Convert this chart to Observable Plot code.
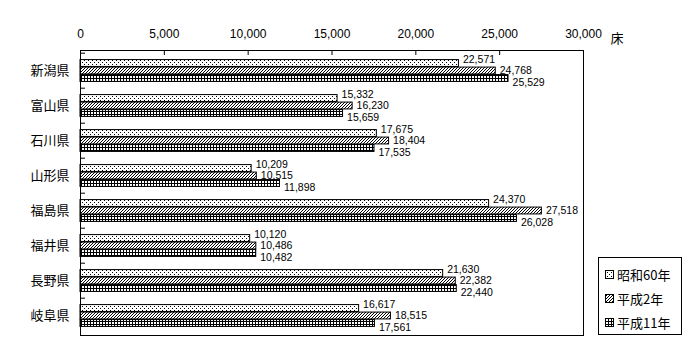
<!DOCTYPE html>
<html>
<head>
<meta charset="utf-8">
<script src="https://cdn.jsdelivr.net/npm/d3@7"></script>
<script src="https://cdn.jsdelivr.net/npm/@observablehq/plot@0.6"></script>
<style>
  body { margin: 0; background: #fff; }
  #wrap { position: relative; width: 700px; height: 360px; font-family: "Noto Sans CJK JP", sans-serif; color: #000; }
  #legend { position: absolute; left: 598px; top: 257px; width: 84px; height: 78px; border: 1px solid #000; box-sizing: border-box; background: #fff; font-size: 13px; padding-top: 4px; }
  #legend .item { display: flex; align-items: center; height: 24px; padding-left: 6px; }
  #legend svg { margin-right: 3px; }
</style>
</head>
<body>
<svg width="0" height="0" style="position:absolute">
  <defs>
    <pattern id="pDots" width="4" height="4" patternUnits="userSpaceOnUse">
      <rect width="4" height="4" fill="#fff"/>
      <rect x="0" y="0" width="1" height="1" fill="#000"/>
      <rect x="2" y="2" width="1" height="1" fill="#000"/>
    </pattern>
    <pattern id="pHatch" width="3" height="3" patternUnits="userSpaceOnUse">
      <rect width="3" height="3" fill="#fff"/>
      <path d="M0,3 L3,0 M-1,1 L1,-1 M2,4 L4,2" stroke="#000" stroke-width="1"/>
    </pattern>
    <pattern id="pGrid" width="3" height="3" patternUnits="userSpaceOnUse">
      <rect width="3" height="3" fill="#fff"/>
      <path d="M0.5,0 V3 M0,0.5 H3" stroke="#000" stroke-width="1"/>
    </pattern>
  </defs>
</svg>
<div id="wrap"></div>
<script>
const prefectures = ["新潟県","富山県","石川県","山形県","福島県","福井県","長野県","岐阜県"];
const seriesNames = ["昭和60年","平成2年","平成11年"];
const valuesS60 = [22571,15332,17675,10209,24370,10120,21630,16617];
const valuesH2  = [24768,16230,18404,10515,27518,10486,22382,18515];
const valuesH11 = [25529,15659,17535,11898,26028,10482,22440,17561];
const xTicks = [0,5000,10000,15000,20000,25000,30000];
const unitLabel = "床";

const patterns = ["url(#pDots)","url(#pHatch)","url(#pGrid)"];
const seriesValues = [valuesS60, valuesH2, valuesH11];

const W = 700, H = 360, mL = 80, mR = 117, mT = 50, mB = 25;
const band = (H - mT - mB) / prefectures.length;
const barH = 7.5;
const groupTop = (band - barH * 3) / 2;
const labelStep = band / 3;
const numFont = "'Liberation Sans', 'DejaVu Sans', sans-serif";
const fmt = d3.format(",");

const marks = [];
seriesValues.forEach((vals, i) => {
  const rows = prefectures.map((p, j) => ({pref: p, value: vals[j]}));
  marks.push(Plot.barX(rows, {
    x: "value", y: "pref",
    fill: patterns[i], stroke: "#000", strokeWidth: 1,
    insetTop: groupTop + barH * i,
    insetBottom: band - groupTop - barH * (i + 1)
  }));
  marks.push(Plot.text(rows, {
    x: "value", y: "pref", text: d => fmt(d.value),
    textAnchor: "start", dx: 4, dy: (i - 1) * labelStep,
    fontSize: 10.5, fontFamily: numFont, fill: "#000"
  }));
});

const chart = Plot.plot({
  width: W, height: H,
  marginLeft: mL, marginRight: mR, marginTop: mT, marginBottom: mB,
  style: {fontFamily: "'Noto Sans CJK JP', sans-serif", fontSize: "12px", color: "#000", background: "#fff"},
  x: {domain: [0, 30000]},
  y: {domain: prefectures, padding: 0},
  marks: [
    ...marks,
    Plot.ruleX(xTicks.slice(1, -1), {stroke: "#000", insetBottom: (H - mT - mB) - 5}),
    Plot.ruleY(prefectures, {y: d => d, stroke: "#000", dy: -band / 2, insetRight: (W - mL - mR) - 5}),
    Plot.axisX(xTicks, {anchor: "top", tickSize: 0, tickPadding: 13, tickFormat: fmt, fontSize: 12, fontFamily: numFont, label: null}),
    Plot.axisY({tickSize: 0, tickPadding: 11, fontSize: 13, label: null}),
    Plot.text([unitLabel], {frameAnchor: "top-right", dx: 40, dy: -17, fontSize: 13, fill: "#000"}),
    Plot.frame({stroke: "#000", strokeWidth: 1})
  ]
});
const wrap = document.getElementById("wrap");
wrap.appendChild(chart);

const legend = document.createElement("div");
legend.id = "legend";
seriesNames.forEach((name, i) => {
  const item = document.createElement("div");
  item.className = "item";
  item.innerHTML = `<svg width="9" height="9"><rect x="0.5" y="0.5" width="8" height="8" fill="${patterns[i]}" stroke="#000"/></svg><span>${name}</span>`;
  legend.appendChild(item);
});
wrap.appendChild(legend);
</script>
</body>
</html>
